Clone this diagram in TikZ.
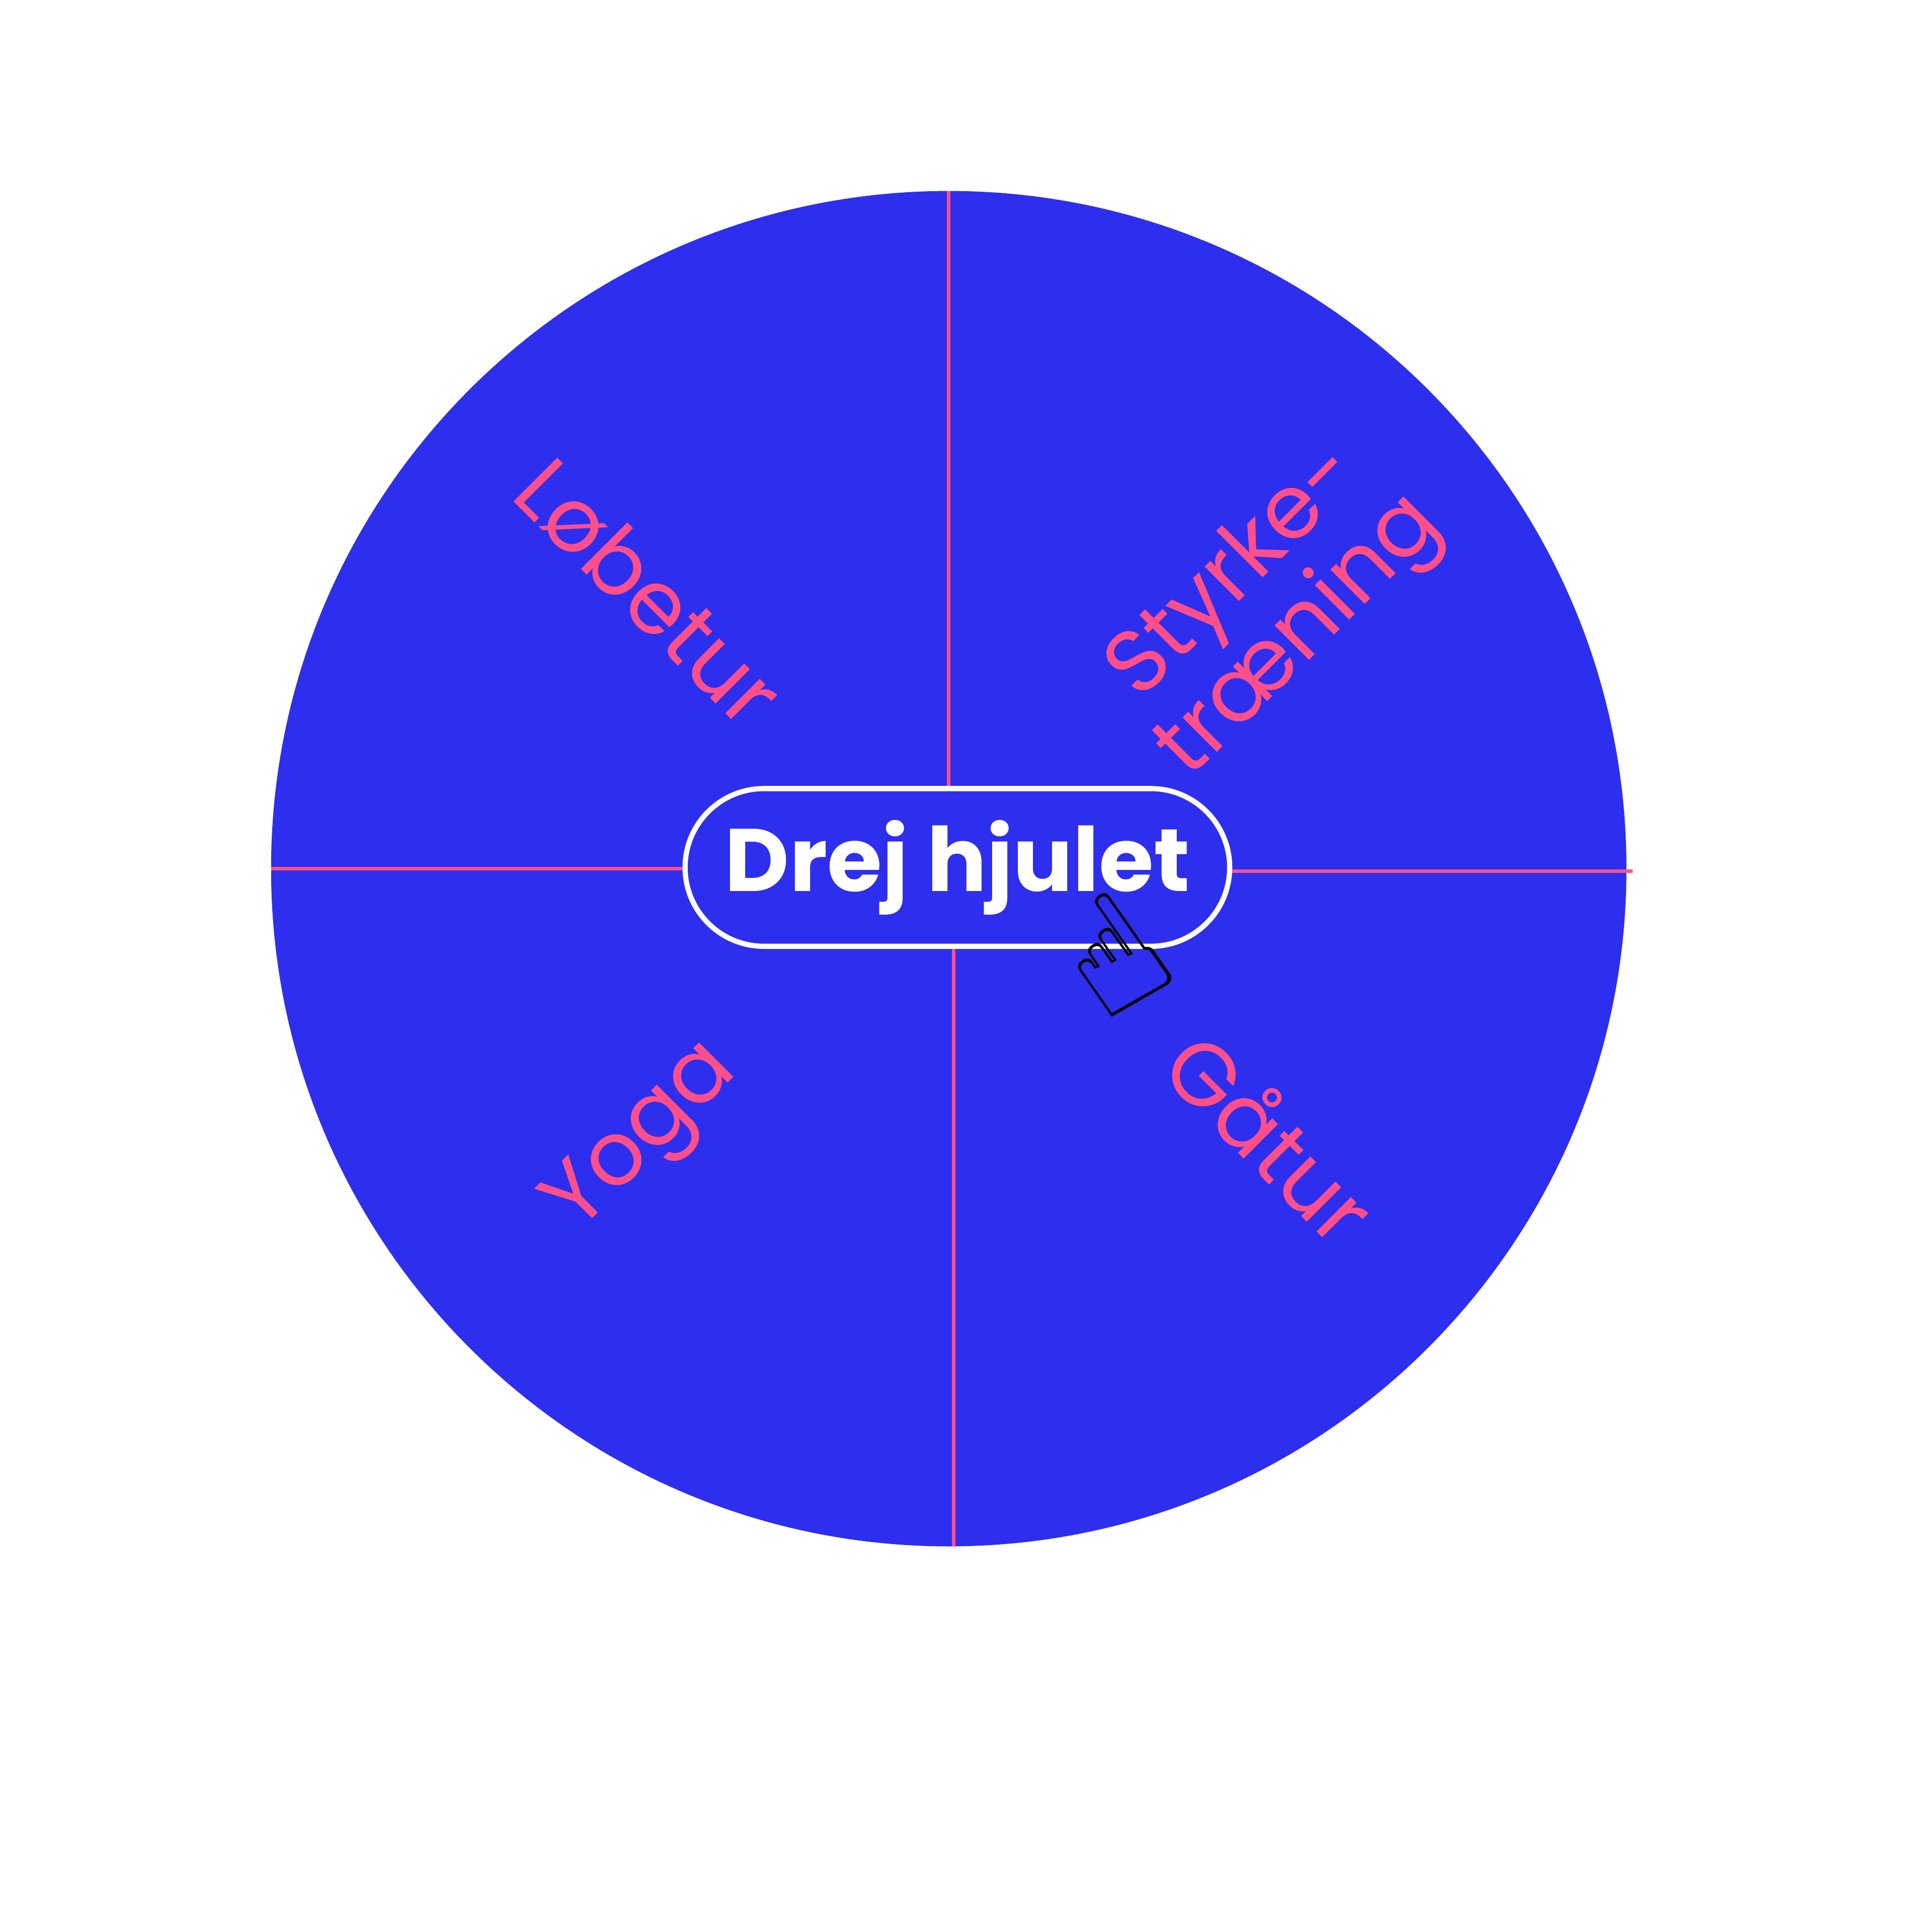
\documentclass[tikz,border=0pt]{standalone}
\usepackage{fontspec}
\setmainfont{Poppins}
\newfontfamily\symf{DejaVu Sans}
\definecolor{wheel}{HTML}{2E2EEE}
\definecolor{pinkc}{HTML}{FF4F8B}
\begin{document}
\begin{tikzpicture}[x=1mm,y=1mm,
  lbl/.style={text=pinkc,font=\fontsize{205}{205}\selectfont,align=center},
  sep/.style={draw=pinkc,line width=8pt}]
\useasboundingbox (0,0) rectangle (1568,-1568);
\fill[wheel] (770,-705) circle (550);
\node[draw=white,line width=12pt,fill=wheel,rounded corners=64mm,minimum width=442mm,minimum height=128mm,text=white,font=\fontsize{205}{205}\selectfont\bfseries] (btn) at (777,-704) {Drej hjulet};
\coordinate (t) at (770,-155); \coordinate (b) at (774,-1255);
\coordinate (l) at (220,-705); \coordinate (r) at (1325,-707);
\draw[sep] (t) -- (btn.north-|t);
\draw[sep] (btn.south-|b) -- (b);
\draw[sep] (l) -- (btn.west|-l);
\draw[sep] (btn.east|-r) -- (r);
\node[lbl,rotate=-45] (lo) at (527,-480) {Løbetur};
\node[lbl,rotate=45,font=\fontsize{205}{180}\selectfont] (st) at (1030,-492) {Styrke-\\træning};
\node[lbl,rotate=45] (yo) at (523,-925) {Yoga};
\node[lbl,rotate=-45] (ga) at (1032,-922) {Gåtur};
\node[font=\symf\fontsize{360}{360}\selectfont,rotate=35] (hand) at (903,-775) {☝};
\end{tikzpicture}
\end{document}
